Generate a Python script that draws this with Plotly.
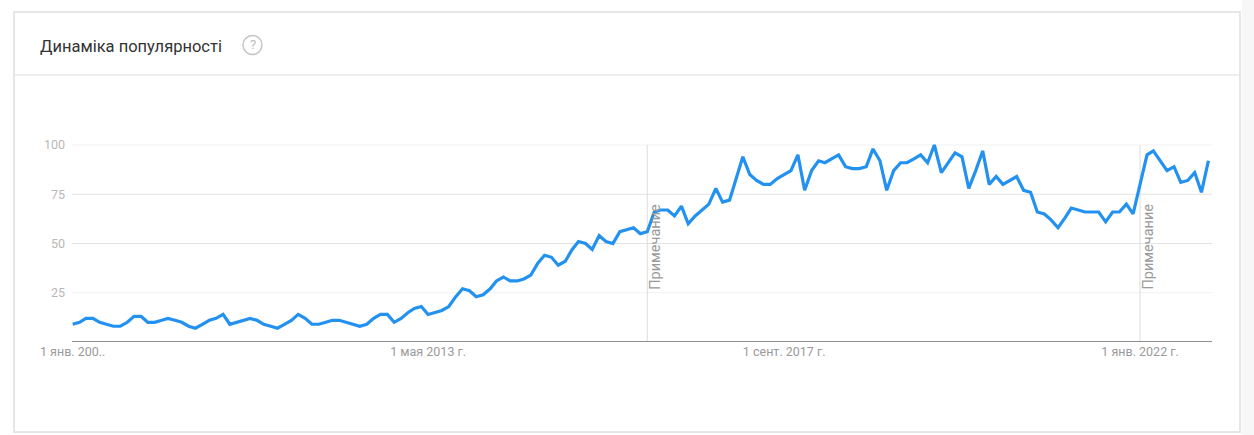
import pandas as pd
import plotly.graph_objects as go

# ---- data (monthly, from Jan 2009) ----
start_month = "2009-01-01"
popularity = [
    9, 10, 12, 12, 10, 9, 8, 8, 10, 13, 13, 10,
    10, 11, 12, 11, 10, 8, 7, 9, 11, 12, 14, 9,
    10, 11, 12, 11, 9, 8, 7, 9, 11, 14, 12, 9,
    9, 10, 11, 11, 10, 9, 8, 9, 12, 14, 14, 10,
    12, 15, 17, 18, 14, 15, 16, 18, 23, 27, 26, 23,
    24, 27, 31, 33, 31, 31, 32, 34, 40, 44, 43, 39,
    41, 47, 51, 50, 47, 54, 51, 50, 56, 57, 58, 55,
    56, 66, 67, 67, 64, 69, 60, 64, 67, 70, 78, 71,
    72, 83, 94, 85, 82, 80, 80, 83, 85, 87, 95, 77,
    87, 92, 91, 93, 95, 89, 88, 88, 89, 98, 92, 77,
    87, 91, 91, 93, 95, 91, 100, 86, 91, 96, 94, 78,
    87, 97, 80, 84, 80, 82, 84, 77, 76, 66, 65, 62,
    58, 63, 68, 67, 66, 66, 66, 61, 66, 66, 70, 65,
    80, 95, 97, 92, 87, 89, 81, 82, 86, 76, 92,
]
dates = pd.date_range(start_month, periods=len(popularity), freq="MS")

x_tick_vals = ["2009-01-01", "2013-05-01", "2017-09-01", "2022-01-01"]
x_tick_text = ["1 янв. 200..", "1 мая 2013 г.", "1 сент. 2017 г.", "1 янв. 2022 г."]
y_tick_vals = [25, 50, 75, 100]
note_dates = ["2016-01-01", "2022-01-01"]
note_text = "Примечание"
title_text = "Динаміка популярності"

W, H = 1254, 435
FONT = "Roboto, Arial, sans-serif"

def px_x(p):
    return p / W

def px_y(p):
    return 1 - p / H

fig = go.Figure()
fig.add_trace(go.Scatter(
    x=dates, y=popularity, mode="lines",
    line=dict(color="#2391f0", width=3.2),
    hoverinfo="x+y", showlegend=False,
))

shapes = []
# card
shapes.append(dict(type="rect", xref="paper", yref="paper",
                   x0=px_x(14), x1=px_x(1240), y0=px_y(432), y1=px_y(12),
                   line=dict(color="#e6e6e6", width=2), fillcolor="white", layer="below"))
# right grey strip
shapes.append(dict(type="rect", xref="paper", yref="paper",
                   x0=px_x(1242), x1=1, y0=0, y1=1,
                   line=dict(width=0), fillcolor="#f7f7f7", layer="below"))
# header divider
shapes.append(dict(type="line", xref="paper", yref="paper",
                   x0=px_x(15), x1=px_x(1239), y0=px_y(75), y1=px_y(75),
                   line=dict(color="#e8e8e8", width=1.5)))
# help icon circle
shapes.append(dict(type="circle", xref="paper", yref="paper",
                   x0=px_x(243), x1=px_x(262), y0=px_y(54.5), y1=px_y(35.5),
                   line=dict(color="#c4c4c4", width=1.5)))
# gridlines
for v in y_tick_vals:
    col = "#e3e3e3" if v in (50, 75) else "#f1f1f1"
    shapes.append(dict(type="line", xref="x domain", yref="y",
                       x0=0, x1=1, y0=v, y1=v, line=dict(color=col, width=1),
                       layer="below"))
# note lines
for d in note_dates:
    shapes.append(dict(type="line", xref="x", yref="y",
                       x0=d, x1=d, y0=0, y1=100, line=dict(color="#dcdcdc", width=1),
                       layer="below"))
# baseline
shapes.append(dict(type="line", xref="x domain", yref="y",
                   x0=0, x1=1, y0=0, y1=0, line=dict(color="#8f8f8f", width=2)))

annotations = [
    dict(text=title_text, xref="paper", yref="paper", x=px_x(38), y=px_y(46),
         xanchor="left", yanchor="middle", showarrow=False,
         font=dict(family=FONT, size=16.5, color="#333333")),
    dict(text="?", xref="paper", yref="paper", x=px_x(252.5), y=px_y(45),
         xanchor="center", yanchor="middle", showarrow=False,
         font=dict(family=FONT, size=13, color="#bdbdbd")),
]
for d in note_dates:
    annotations.append(dict(text=note_text, xref="x", yref="y", x=d, y=48.5,
                            xanchor="center", yanchor="middle", showarrow=False,
                            textangle=-90, xshift=8,
                            font=dict(family=FONT, size=14.5, color="#9a9a9a")))

fig.update_layout(
    width=W, height=H, autosize=False,
    margin=dict(l=0, r=0, t=0, b=0, autoexpand=False),
    paper_bgcolor="white", plot_bgcolor="rgba(0,0,0,0)",
    shapes=shapes, annotations=annotations,
    xaxis=dict(domain=[px_x(72), px_x(1212)], type="date",
               range=["2008-12-29", "2022-11-17"],
               tickvals=x_tick_vals, ticktext=x_tick_text,
               showgrid=False, zeroline=False, showline=False, ticks="",
               automargin=False,
               tickfont=dict(family=FONT, size=12.5, color="#9a9a9a"),
               fixedrange=True),
    yaxis=dict(domain=[px_y(342), px_y(342 - 102 * 1.97)], range=[0, 102],
               tickvals=y_tick_vals, showgrid=False, zeroline=False,
               showline=False, ticks="", ticklabelstandoff=6, automargin=False,
               tickfont=dict(family=FONT, size=12.5, color="#b8b8b8"),
               fixedrange=True),
    font=dict(family=FONT),
)

fig.write_html("out.html")
